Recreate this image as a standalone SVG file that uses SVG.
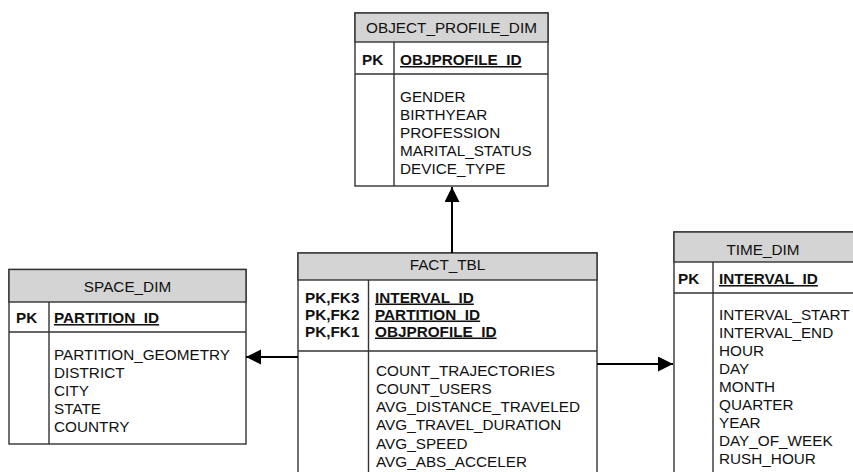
<svg xmlns="http://www.w3.org/2000/svg" width="853" height="472" viewBox="0 0 853 472">
<defs>
<style>
text{font-family:"Liberation Sans",Arial,sans-serif;font-size:15.3px;fill:#111}
.box{fill:#fff;stroke:#333;stroke-width:1.4}
.hdr{fill:#d4d4d4;stroke:#333;stroke-width:1.4}
.div{stroke:#333;stroke-width:1.4;fill:none}
.t{text-anchor:middle}
.pk{font-weight:bold}
.key{font-weight:bold;text-decoration:underline}
.con{stroke:#000;stroke-width:2;fill:none;marker-end:url(#arr)}
</style>
<marker id="arr" markerUnits="userSpaceOnUse" markerWidth="16" markerHeight="16" refX="15" refY="7.5" orient="auto">
<path d="M0,0 L15,7.5 L0,15 Z" fill="#000"/>
</marker>
</defs>
<rect width="853" height="472" fill="#fff"/>

<g id="object_profile_dim">
<rect class="box" x="355" y="13" width="193" height="173"/>
<rect class="hdr" x="355" y="13" width="193" height="29"/>
<text class="t" x="451.5" y="33">OBJECT_PROFILE_DIM</text>
<line class="div" x1="355" y1="74" x2="548" y2="74"/>
<line class="div" x1="394" y1="42" x2="394" y2="186"/>
<text class="pk" x="362" y="65">PK</text>
<text class="key" x="400" y="65">OBJPROFILE_ID</text>
<text x="400" y="102">GENDER</text>
<text x="400" y="120">BIRTHYEAR</text>
<text x="400" y="138">PROFESSION</text>
<text x="400" y="156">MARITAL_STATUS</text>
<text x="400" y="174">DEVICE_TYPE</text>
</g>

<g id="space_dim">
<rect class="box" x="9" y="269.5" width="237" height="174.5"/>
<rect class="hdr" x="9" y="269.5" width="237" height="32.5"/>
<text class="t" x="127.5" y="291.5">SPACE_DIM</text>
<line class="div" x1="9" y1="332" x2="246" y2="332"/>
<line class="div" x1="49" y1="302" x2="49" y2="444"/>
<text class="pk" x="16" y="323">PK</text>
<text class="key" x="54" y="323">PARTITION_ID</text>
<text x="54" y="359.5">PARTITION_GEOMETRY</text>
<text x="54" y="377.7">DISTRICT</text>
<text x="54" y="395.9">CITY</text>
<text x="54" y="414.1">STATE</text>
<text x="54" y="432.3">COUNTRY</text>
</g>

<g id="fact_tbl">
<rect class="box" x="298" y="253" width="299" height="230"/>
<rect class="hdr" x="298" y="253" width="299" height="27"/>
<text class="t" x="447.5" y="270">FACT_TBL</text>
<line class="div" x1="298" y1="351" x2="597" y2="351"/>
<line class="div" x1="368.5" y1="280" x2="368.5" y2="483"/>
<text class="pk" x="305" y="302.5">PK,FK3</text>
<text class="pk" x="305" y="319.5">PK,FK2</text>
<text class="pk" x="305" y="336.5">PK,FK1</text>
<text class="key" x="375" y="302.5">INTERVAL_ID</text>
<text class="key" x="375" y="319.5">PARTITION_ID</text>
<text class="key" x="375" y="336.5">OBJPROFILE_ID</text>
<text x="376" y="375.7">COUNT_TRAJECTORIES</text>
<text x="376" y="393.9">COUNT_USERS</text>
<text x="376" y="412.1">AVG_DISTANCE_TRAVELED</text>
<text x="376" y="430.3">AVG_TRAVEL_DURATION</text>
<text x="376" y="448.5">AVG_SPEED</text>
<text x="376" y="466.7">AVG_ABS_ACCELER</text>
</g>

<g id="time_dim">
<rect class="box" x="674" y="232" width="184" height="250"/>
<rect class="hdr" x="674" y="232" width="184" height="30"/>
<text class="t" x="763" y="255">TIME_DIM</text>
<line class="div" x1="674" y1="293" x2="858" y2="293"/>
<line class="div" x1="713" y1="262" x2="713" y2="482"/>
<text class="pk" x="678" y="284">PK</text>
<text class="key" x="719" y="284">INTERVAL_ID</text>
<text x="719" y="320">INTERVAL_START</text>
<text x="719" y="338">INTERVAL_END</text>
<text x="719" y="356">HOUR</text>
<text x="719" y="374">DAY</text>
<text x="719" y="392">MONTH</text>
<text x="719" y="410">QUARTER</text>
<text x="719" y="428">YEAR</text>
<text x="719" y="446">DAY_OF_WEEK</text>
<text x="719" y="464">RUSH_HOUR</text>
</g>

<g id="connectors">
<path class="con" d="M452,253 L452,187"/>
<path class="con" d="M298,357 L246,357"/>
<path class="con" d="M597,364 L673,364"/>
</g>
</svg>
